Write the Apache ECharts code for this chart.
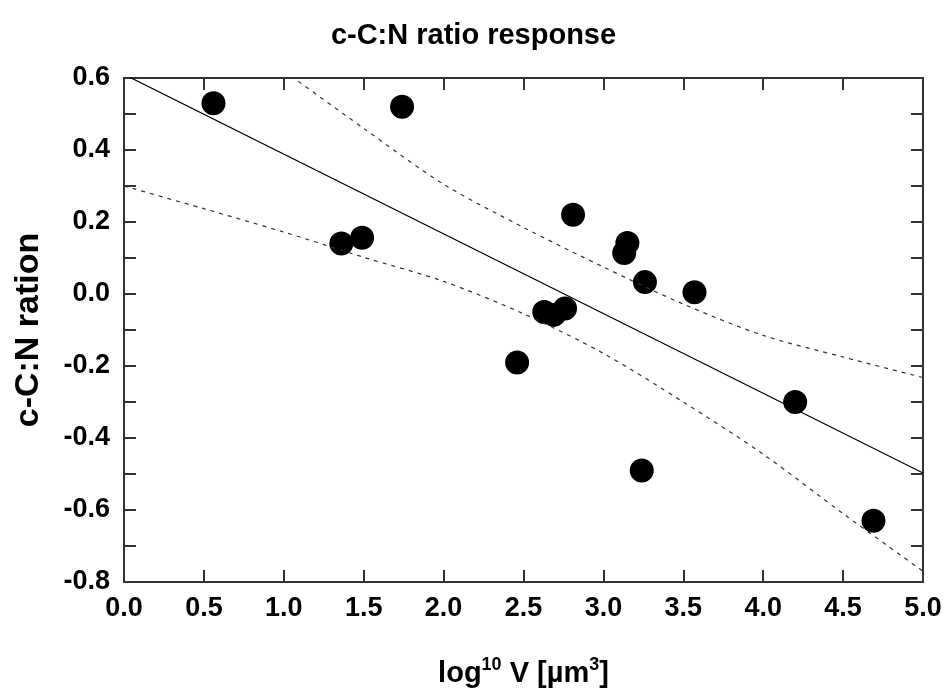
<!DOCTYPE html>
<html>
<head>
<meta charset="utf-8">
<script src="https://cdn.jsdelivr.net/npm/echarts@6/dist/echarts.min.js"></script>
<style>html,body{margin:0;padding:0;background:#fff;}#c{width:947px;height:697px;}</style>
</head>
<body>
<div id="c"></div>
<script>
// Observed points: [log10 V, c-C:N ratio]
const pointsX = [0.56, 1.74, 1.36, 1.49, 2.81, 3.15, 3.13, 3.26, 2.63, 2.69, 2.76, 2.46, 3.24, 3.57, 4.20, 4.69];
const pointsY = [0.53, 0.52, 0.14, 0.156, 0.22, 0.142, 0.114, 0.033, -0.05, -0.058, -0.04, -0.19, -0.49, 0.005, -0.30, -0.63];
// Regression line
const fitX = [0, 5];
const fitY = [0.61, -0.497];
// Confidence bands
const upperX = [1.0, 1.5, 2.0, 2.5, 3.0, 3.5, 4.0, 4.5, 5.0];
const upperY = [0.62, 0.46, 0.305, 0.185, 0.075, -0.028, -0.115, -0.175, -0.232];
const lowerX = [0, 0.5, 1.0, 1.5, 2.0, 2.5, 3.0, 3.5, 4.0, 4.5, 5.0];
const lowerY = [0.30, 0.237, 0.172, 0.102, 0.035, -0.055, -0.165, -0.30, -0.445, -0.61, -0.77];

const zip = (a, b) => a.map((v, i) => [v, b[i]]);
const FONT = '"Liberation Sans", Arial, sans-serif';
const axisLine = {show: true, onZero: false, lineStyle: {color: '#333', width: 2}};
const axisTick = {show: true, inside: true, length: 12, lineStyle: {color: '#333', width: 2}};

const chart = echarts.init(document.getElementById('c'));
chart.setOption({
  animation: false,
  backgroundColor: '#fff',
  title: {
    text: 'c-C:N ratio response',
    left: 'center',
    top: 16,
    textStyle: {fontFamily: FONT, fontWeight: 'bold', fontSize: 29, color: '#000'}
  },
  grid: {left: 124, right: 24, top: 78, bottom: 115},
  xAxis: [{
    type: 'value', min: 0, max: 5, interval: 0.5,
    position: 'bottom',
    axisLine, axisTick,
    splitLine: {show: false},
    axisLabel: {margin: 13, fontFamily: FONT, fontWeight: 'bold', fontSize: 27, color: '#000',
      formatter: v => v.toFixed(1)},
    name: '{a|log}{sup|10}{a| V [µm}{sup|3}{a|]}',
    nameLocation: 'middle',
    nameGap: 74,
    nameTextStyle: {
      rich: {
        a: {fontFamily: FONT, fontWeight: 'bold', fontSize: 29, color: '#000', lineHeight: 36},
        sup: {fontFamily: FONT, fontWeight: 'bold', fontSize: 18, color: '#000', lineHeight: 14, verticalAlign: 'top'}
      }
    }
  }, {
    type: 'value', min: 0, max: 5, interval: 0.5,
    position: 'top',
    axisLine, axisTick,
    splitLine: {show: false},
    axisLabel: {show: false}
  }],
  yAxis: [{
    type: 'value', min: -0.8, max: 0.6, interval: 0.1,
    position: 'left',
    axisLine, axisTick,
    splitLine: {show: false},
    axisLabel: {margin: 14, fontFamily: FONT, fontWeight: 'bold', fontSize: 27, color: '#000',
      formatter: v => (Math.round(v * 10) % 2 === 0 ? (Math.abs(v) < 1e-9 ? '0.0' : v.toFixed(1)) : '')},
    name: 'c-C:N ration',
    nameLocation: 'middle',
    nameGap: 78,
    nameTextStyle: {fontFamily: FONT, fontWeight: 'bold', fontSize: 34, color: '#000'}
  }, {
    type: 'value', min: -0.8, max: 0.6, interval: 0.1,
    position: 'right',
    axisLine, axisTick,
    splitLine: {show: false},
    axisLabel: {show: false}
  }],
  series: [
    {type: 'line', data: zip(lowerX, lowerY), smooth: 0.3, symbol: 'none', clip: true,
      lineStyle: {color: '#333', width: 1.2, type: [4, 5]}},
    {type: 'line', data: zip(upperX, upperY), smooth: 0.3, symbol: 'none', clip: true,
      lineStyle: {color: '#333', width: 1.2, type: [4, 5]}},
    {type: 'line', data: zip(fitX, fitY), symbol: 'none', clip: true,
      lineStyle: {color: '#000', width: 1.2}},
    {type: 'scatter', data: zip(pointsX, pointsY), symbol: 'circle', symbolSize: 24,
      itemStyle: {color: '#000', opacity: 1}}
  ]
});
</script>
</body>
</html>
